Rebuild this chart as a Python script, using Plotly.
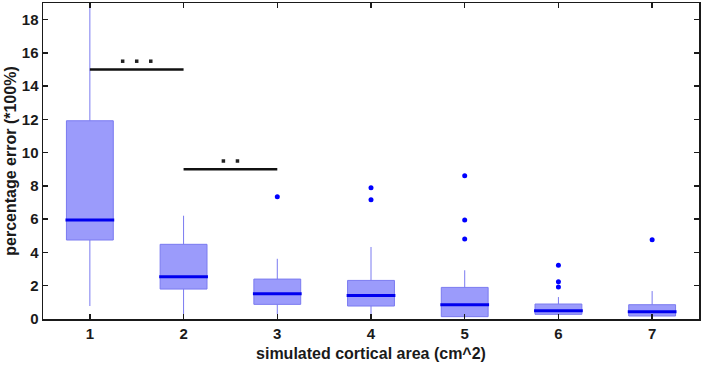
import plotly.graph_objects as go

areas = [1, 2, 3, 4, 5, 6, 7]
q1 = [4.75, 1.80, 0.88, 0.78, 0.14, 0.28, 0.18]
medians = [5.95, 2.54, 1.52, 1.42, 0.86, 0.50, 0.44]
q3 = [11.92, 4.49, 2.40, 2.32, 1.90, 0.90, 0.86]
lower_whisker = [0.78, 0.30, 0.30, 0.30, 0.10, 0.10, 0.08]
upper_whisker = [20.0, 6.21, 3.62, 4.33, 2.93, 1.32, 1.68]

outlier_x = [3, 4, 4, 5, 5, 5, 6, 6, 6, 7]
outlier_y = [7.35, 7.89, 7.17, 8.61, 5.95, 4.81, 3.23, 2.24, 1.92, 4.77]

sig_pairs = [(1, 2), (2, 3)]
sig_levels = [15.0, 9.0]
sig_labels = [3, 2]  # number of stars

x_ticks = [1, 2, 3, 4, 5, 6, 7]
y_ticks = [0, 2, 4, 6, 8, 10, 12, 14, 16, 18]

BOX_W = 0.5
FONT = "Liberation Sans, Arial, sans-serif"

fig = go.Figure()

fig.add_trace(go.Box(
    x=areas, q1=q1, median=medians, q3=q3,
    lowerfence=lower_whisker, upperfence=upper_whisker,
    width=BOX_W, whiskerwidth=0,
    fillcolor="#9b9bfb",
    line=dict(color="#7a7af0", width=1),
    boxpoints=False, showlegend=False, hoverinfo="skip",
))

# median lines
for x, m in zip(areas, medians):
    fig.add_trace(go.Scatter(
        x=[x - BOX_W / 2 - 0.01, x + BOX_W / 2 + 0.01], y=[m, m],
        mode="lines", line=dict(color="#0000ee", width=3),
        showlegend=False, hoverinfo="skip",
    ))

# outliers
fig.add_trace(go.Scatter(
    x=outlier_x, y=outlier_y, mode="markers",
    marker=dict(color="#0000ff", size=5),
    showlegend=False, hoverinfo="skip",
))

# significance bars
for (a, b), lvl, n in zip(sig_pairs, sig_levels, sig_labels):
    fig.add_trace(go.Scatter(
        x=[a, b], y=[lvl, lvl], mode="lines",
        line=dict(color="#111111", width=2.5),
        showlegend=False, hoverinfo="skip",
    ))
    mid = (a + b) / 2
    step = 0.15
    xs = [mid + (i - (n - 1) / 2) * step for i in range(n)]
    fig.add_trace(go.Scatter(
        x=xs, y=[lvl + 0.5] * n, mode="markers",
        marker=dict(color="#222222", size=3.5, symbol="square"),
        showlegend=False, hoverinfo="skip",
    ))

fig.update_layout(
    width=702, height=365,
    margin=dict(l=43, r=3, t=3, b=46),
    plot_bgcolor="white", paper_bgcolor="white",
    font=dict(family=FONT, size=16, color="#1a1a1a"),
)
fig.update_xaxes(
    range=[0.5, 7.5], tickvals=x_ticks, ticktext=[str(v) for v in x_ticks],
    ticks="inside", ticklen=5, tickwidth=1.5, tickcolor="#1a1a1a",
    showline=True, linecolor="#1a1a1a", linewidth=1.5, mirror="ticks",
    showgrid=False, zeroline=False, automargin=False,
    tickfont=dict(family=FONT, size=15, weight="bold"),
    title=dict(text="simulated cortical area (cm^2)", standoff=7,
               font=dict(family=FONT, size=16, weight="bold")),
)
fig.update_yaxes(
    range=[0, 19], tickvals=y_ticks, ticktext=[str(v) for v in y_ticks],
    ticks="inside", ticklen=5, tickwidth=1.5, tickcolor="#1a1a1a",
    showline=True, linecolor="#1a1a1a", linewidth=1.5, mirror="ticks",
    showgrid=False, zeroline=False, automargin=False,
    tickfont=dict(family=FONT, size=15, weight="bold"),
    title=dict(text="percentage error (*100%)", standoff=1,
               font=dict(family=FONT, size=16, weight="bold")),
)

fig.write_html(
    "out.html",
    config={"displayModeBar": False, "staticPlot": True},
    post_script="document.body.style.margin='0';document.body.style.overflow='hidden';",
)
